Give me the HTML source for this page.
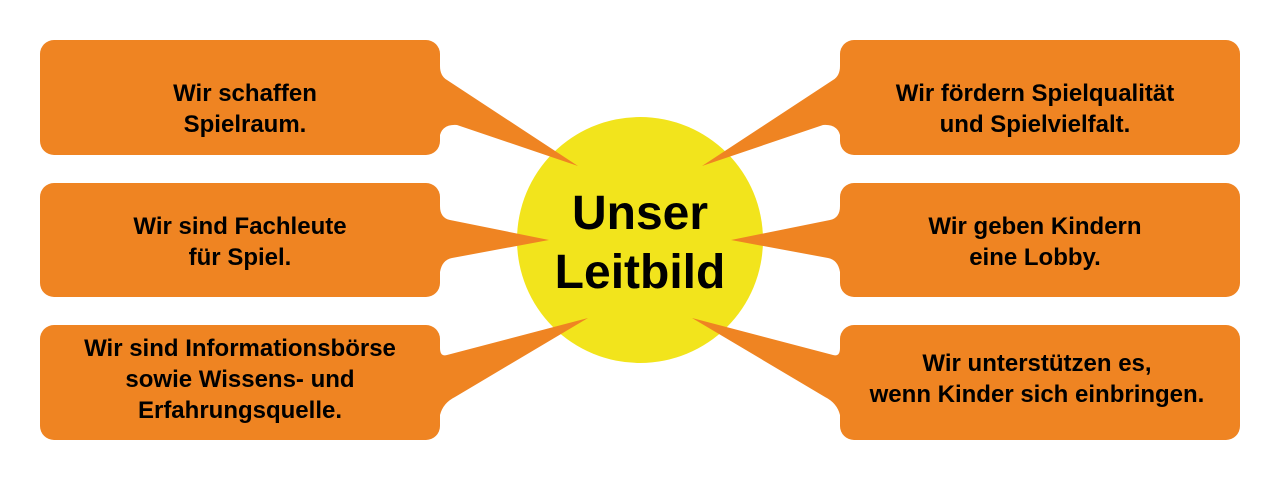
<!DOCTYPE html>
<html><head><meta charset="utf-8"><style>html,body{margin:0;padding:0;background:#fff}svg{display:block}</style></head>
<body>
<svg width="1280" height="480" viewBox="0 0 1280 480" xmlns="http://www.w3.org/2000/svg">
<circle cx="640" cy="240" r="123" fill="#f2e41c"/>
<g fill="#ef8422">
  <rect x="40" y="40" width="400" height="115" rx="14"/>
  <rect x="40" y="183" width="400" height="114" rx="14"/>
  <rect x="40" y="325" width="400" height="115" rx="14"/>
  <rect x="840" y="40" width="400" height="115" rx="14"/>
  <rect x="840" y="183" width="400" height="114" rx="14"/>
  <rect x="840" y="325" width="400" height="115" rx="14"/>
  <path d="M430 60 L440 66 Q440 76 447 80 L578 166 L457 125 Q443 124 440 135 L430 140 Z"/>
  <path d="M430 200 L440 206 Q440 218 450 220 L549 240 L452 258 Q442 260 440 272 L430 276 Z"/>
  <path d="M430 345 L440 348 Q440 357 447 355 L588 318 L455 397 Q443 403 440 415 L430 420 Z"/>
  <path d="M850 60 L840 66 Q840 76 833 80 L702 166 L823 125 Q837 124 840 135 L850 140 Z"/>
  <path d="M850 200 L840 206 Q840 218 830 220 L731 240 L828 258 Q838 260 840 272 L850 276 Z"/>
  <path d="M850 345 L840 348 Q840 357 833 355 L692 318 L825 397 Q837 403 840 415 L850 420 Z"/>
</g>
<g font-family="Liberation Sans, Arial, sans-serif" font-weight="bold" font-size="24" text-anchor="middle" fill="#000">
  <text x="245" y="101">Wir schaffen</text>
  <text x="245" y="132">Spielraum.</text>
  <text x="240" y="234">Wir sind Fachleute</text>
  <text x="240" y="265">für Spiel.</text>
  <text x="240" y="356">Wir sind Informationsbörse</text>
  <text x="240" y="387">sowie Wissens- und</text>
  <text x="240" y="418">Erfahrungsquelle.</text>
  <text x="1035" y="101">Wir fördern Spielqualität</text>
  <text x="1035" y="132">und Spielvielfalt.</text>
  <text x="1035" y="234">Wir geben Kindern</text>
  <text x="1035" y="265">eine Lobby.</text>
  <text x="1037" y="371">Wir unterstützen es,</text>
  <text x="1037" y="402">wenn Kinder sich einbringen.</text>
</g>
<g font-family="Liberation Sans, Arial, sans-serif" font-weight="bold" font-size="48" text-anchor="middle" fill="#000">
  <text x="640" y="229">Unser</text>
  <text x="640" y="288">Leitbild</text>
</g>
</svg>
</body></html>
